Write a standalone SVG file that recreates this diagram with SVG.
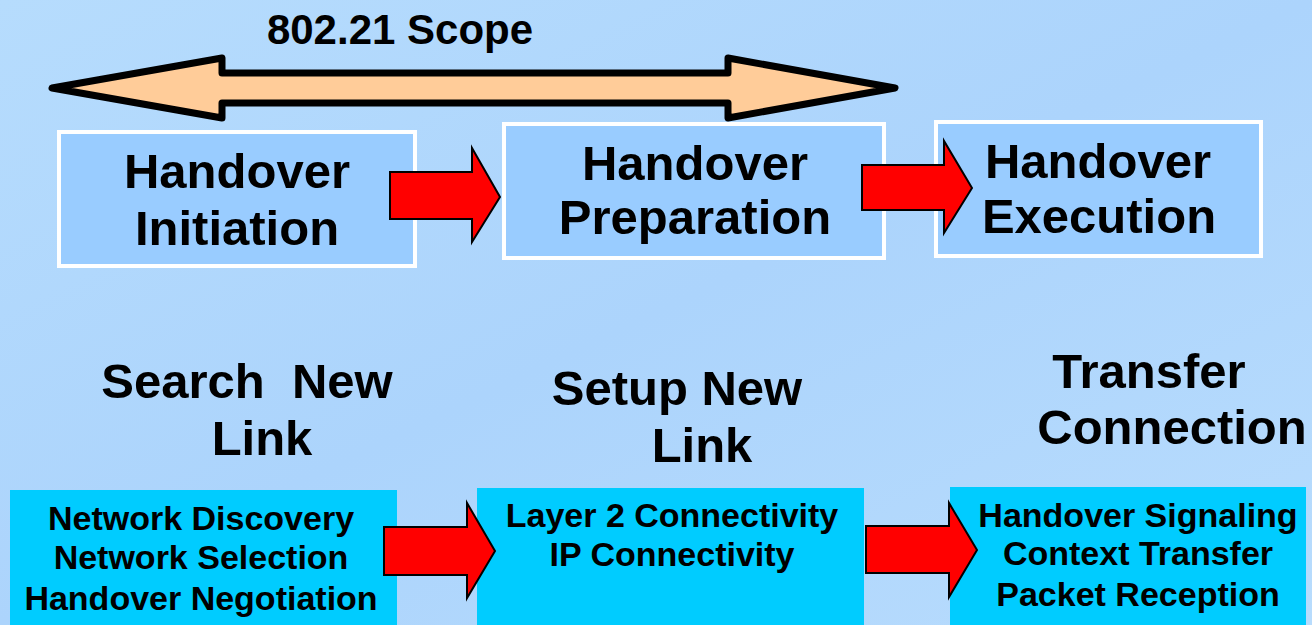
<svg xmlns="http://www.w3.org/2000/svg" width="1312" height="625" viewBox="0 0 1312 625">
<defs>
<linearGradient id="bg" x1="0" y1="0" x2="1" y2="1">
<stop offset="0" stop-color="#b6dcfd"/>
<stop offset="0.5" stop-color="#acd4fc"/>
<stop offset="1" stop-color="#b8dcfd"/>
</linearGradient>
<style>
.t{font-family:"Liberation Sans",Arial,sans-serif;font-weight:bold;fill:#000;text-anchor:middle}
.big{font-size:49px}
.lab{font-size:49px}
.sm{font-size:34px}
.top{fill:#99ccff;stroke:#fff;stroke-width:4}
.bot{fill:#00ccff}
.red{fill:#ff0000;stroke:#000;stroke-width:2;stroke-linejoin:miter}
</style>
</defs>
<rect width="1312" height="625" fill="url(#bg)"/>
<g id="scope">
<polygon points="52,88 222,58 222,73 728,73 728,58 895,88 728,118 728,103 222,103 222,118" fill="#ffcc99" stroke="#000" stroke-width="7" stroke-linejoin="round"/>
<text class="t" x="400" y="44" font-size="42">802.21 Scope</text>
</g>
<g id="initiation">
<rect class="top" x="59" y="132" width="356" height="134"/>
<text class="t big" x="237" y="188">Handover</text>
<text class="t big" x="237" y="245">Initiation</text>
</g>
<g id="preparation">
<rect class="top" x="504" y="124" width="380" height="134"/>
<text class="t big" x="695" y="180">Handover</text>
<text class="t big" x="695" y="234">Preparation</text>
</g>
<g id="execution">
<rect class="top" x="936" y="122" width="325" height="134"/>
<text class="t big" x="1098" y="178">Handover</text>
<text class="t big" x="1099" y="233">Execution</text>
</g>
<g id="search">
<text class="t lab" x="247" y="398" style="white-space:pre">Search  New</text>
<text class="t lab" x="262" y="455">Link</text>
<rect class="bot" x="10" y="490" width="387" height="135"/>
<text class="t sm" x="201" y="530">Network Discovery</text>
<text class="t sm" x="201" y="569">Network Selection</text>
<text class="t sm" x="201" y="610">Handover Negotiation</text>
</g>
<g id="setup">
<text class="t lab" x="677" y="405">Setup New</text>
<text class="t lab" x="702" y="462">Link</text>
<rect class="bot" x="477" y="488" width="387" height="137"/>
<text class="t sm" x="672" y="527">Layer 2 Connectivity</text>
<text class="t sm" x="672" y="566">IP Connectivity</text>
</g>
<g id="transfer">
<text class="t lab" x="1149" y="388">Transfer</text>
<text class="t lab" x="1172" y="444">Connection</text>
<rect class="bot" x="950" y="487" width="356" height="138"/>
<text class="t sm" x="1138" y="527">Handover Signaling</text>
<text class="t sm" x="1138" y="565">Context Transfer</text>
<text class="t sm" x="1138" y="606">Packet Reception</text>
</g>
<g id="connectors">
<polygon class="red" points="390,172 472,172 472,148 500,197 472,242 472,219 390,219"/>
<polygon class="red" points="862,165 944,165 944,141 972,188 944,233 944,210 862,210"/>
<polygon class="red" points="384,527 467,527 467,503 495,551 467,598 467,575 384,575"/>
<polygon class="red" points="866,526 949,526 949,503 977,550 949,597 949,573 866,573"/>
</g>
</svg>
